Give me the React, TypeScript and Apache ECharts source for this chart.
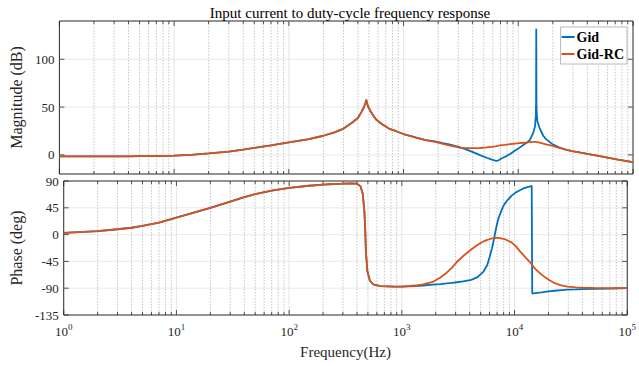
import React, { useEffect, useRef } from "react";
import * as echarts from "echarts";

const FONT = "'Liberation Serif', 'Times New Roman', serif";
const TXT = "#262626";

const freqs = [1, 1.5, 2, 3, 4, 5, 7, 10, 14, 20, 30, 40, 50, 70, 100, 150, 200, 250, 300, 350, 400, 430, 450, 465, 473, 480, 495, 520, 550, 576, 650, 745, 850, 1000, 1300, 1540, 1878, 2200, 2500, 2800, 3070, 3500, 4125, 4700, 5300, 5730, 6000, 6310, 6530, 6745, 6950, 7200, 7600, 7950, 8490, 9380, 10200, 11040, 12000, 12600, 13500, 14000, 14200, 14300, 14350, 14350, 14400, 14500, 14700, 15340, 16500, 17470, 19950, 22700, 25900, 29500, 35000, 40000, 49900, 74000, 100000];

const gidMag = [-1.6, -1.6, -1.6, -1.5, -1.5, -1.4, -1.2, -0.8, 0, 1.5, 3.5, 5.6, 7.3, 10, 13, 16.5, 20, 23.5, 27.5, 33, 38.5, 45, 49.5, 54, 57.7, 54, 49.5, 44.8, 40.5, 37, 32, 27.5, 25, 21.8,
  18, 15.8, 14, 12.3, 11, 9.5, 8, 5.8, 2.4, -0.5, -3, -4.5, -5.3, -6, -6.2, -5.6, -4.6, -3.5, -2.2, -1, 1, 4.5, 7.3, 10.3, 13.3, 15.5, 23, 30, 40, 55, 132, 132, 55, 42, 35, 28, 20, 16.5, 11, 7.8, 5.5, 4, 2.3, 1, -1, -5, -7.5];

const gidRcMag = [-1.6, -1.6, -1.6, -1.5, -1.5, -1.4, -1.2, -0.8, 0, 1.5, 3.5, 5.6, 7.3, 10, 13, 16.5, 20, 23.5, 27.5, 33, 38.5, 45, 49.5, 54, 57.7, 54, 49.5, 44.8, 40.5, 37, 32, 27.5, 25, 21.8,
  17.8, 15.5, 13.5, 11.5, 10, 8.7, 7.6, 7.1, 7, 7.2, 7.8, 8.3, 8.6, 9, 9.3, 9.6, 9.9, 10.2, 10.5, 10.8, 11.2, 11.8, 12.3, 12.7, 13.1, 13.4, 13.6, 13.6, 13.5, 13.5, 13.4, 13.4, 13.4, 13.3, 13.2, 12.7, 11.8, 11, 9.3, 7.3, 5.5, 4, 2.3, 1, -1, -5, -7.5];

const gidPhase = [3, 4.5, 6, 9, 11.5, 14.5, 20, 28.5, 36.5, 45, 55.5, 63, 68, 74, 78.5, 82, 84, 85, 85.5, 86, 85.5, 81, 68, 40, 10, -30, -62, -77, -82.5, -84.5, -86.5, -87, -87.5, -87.5,
  -86.5, -85.5, -84, -83, -82, -81, -80, -78.5, -76, -71.5, -62, -51, -38, -23, -10, 4, 16, 27, 39, 48, 56, 65, 70.5, 74, 77.5, 79, 80.5, 81.5, 82, 82, 82, -99, -99, -99, -98.8, -98.3, -97.5, -97, -95.5, -94.3, -93.4, -92.5, -92, -91.5, -91, -90.5, -90];

const gidRcPhase = [3, 4.5, 6, 9, 11.5, 14.5, 20, 28.5, 36.5, 45, 55.5, 63, 68, 74, 78.5, 82, 84, 85, 85.5, 86, 85.5, 81, 68, 40, 10, -30, -62, -77, -82.5, -84.5, -86.5, -87, -87.5, -87.5,
  -85.5, -83.5, -79.5, -72, -64, -55, -46, -36, -25, -17, -11.5, -9, -7.8, -6.5, -6, -5.7, -5.6, -5.6, -6.3, -7, -9, -13, -19, -27, -34.5, -39, -45, -48.5, -49.5, -50.3, -50.7, -50.7, -51, -52, -54, -58, -63.5, -67.6, -75.5, -81.6, -85.3, -87.3, -88.5, -89, -89.5, -89.8, -90];

const magTicks = [0, 50, 100];
const phaseTicks = [-135, -90, -45, 0, 45, 90];
const decades = [1, 10, 100, 1000, 10000, 100000];
const minorFreqs: number[] = [];
for (let d = 0; d < 5; d++) {
  for (let k = 2; k <= 9; k++) minorFreqs.push(k * Math.pow(10, d));
}
const xGridFreqs = [...decades, ...minorFreqs];

const BLUE = "#0072BD";
const ORANGE = "#D95319";

function vGridSeries(idx: number) {
  return {
    type: "custom",
    xAxisIndex: idx,
    yAxisIndex: idx,
    silent: true,
    z: 1,
    data: xGridFreqs.map((f) => [f, 0]),
    renderItem: (params: any, api: any) => {
      const f = api.value(0);
      const cs = params.coordSys;
      const x = api.coord([f, 0])[0];
      const lg = Math.log10(f);
      const major = Math.abs(lg - Math.round(lg)) < 1e-6;
      const top = cs.y;
      const bot = cs.y + cs.height;
      const tl = major ? 5 : 3;
      const children: any[] = [];
      if (f > 1 && f < 100000) {
        children.push({
          type: "line",
          shape: { x1: x, y1: top, x2: x, y2: bot },
          style: major
            ? { stroke: "#dedede", lineWidth: 0.8 }
            : { stroke: "#b8b8b8", lineWidth: 0.8, lineDash: [1.5, 1.5] },
        });
      }
      children.push({
        type: "line",
        shape: { x1: x, y1: bot, x2: x, y2: bot - tl },
        style: { stroke: TXT, lineWidth: 0.8 },
      });
      children.push({
        type: "line",
        shape: { x1: x, y1: top, x2: x, y2: top + tl },
        style: { stroke: TXT, lineWidth: 0.8 },
      });
      return { type: "group", children };
    },
  };
}

function hGridSeries(idx: number, ticks: number[], lo: number, hi: number) {
  return {
    type: "custom",
    xAxisIndex: idx,
    yAxisIndex: idx,
    silent: true,
    z: 1,
    data: ticks.map((v) => [1, v]),
    renderItem: (params: any, api: any) => {
      const v = api.value(1);
      const cs = params.coordSys;
      const y = api.coord([1, v])[1];
      const l = cs.x;
      const r = cs.x + cs.width;
      const children: any[] = [];
      if (v > lo && v < hi) {
        children.push({
          type: "line",
          shape: { x1: l, y1: y, x2: r, y2: y },
          style: { stroke: "#e3e3e3", lineWidth: 0.8 },
        });
      }
      children.push({
        type: "line",
        shape: { x1: l, y1: y, x2: l + 5, y2: y },
        style: { stroke: TXT, lineWidth: 0.8 },
      });
      children.push({
        type: "line",
        shape: { x1: r, y1: y, x2: r - 5, y2: y },
        style: { stroke: TXT, lineWidth: 0.8 },
      });
      return { type: "group", children };
    },
  };
}

function lineSeries(name: string, idx: number, vals: number[], color: string) {
  return {
    type: "line",
    name,
    xAxisIndex: idx,
    yAxisIndex: idx,
    showSymbol: false,
    symbol: "none",
    z: 3,
    lineStyle: { color, width: 1.8 },
    itemStyle: { color },
    data: freqs.map((f, i) => [f, vals[i]]),
  };
}

const gridBase = {
  left: 48,
  right: 6,
  show: true,
  borderColor: TXT,
  borderWidth: 1,
  backgroundColor: "transparent",
};

const option: any = {
  animation: false,
  backgroundColor: "#fff",
  title: {
    text: "Input current to duty-cycle frequency response",
    left: 345,
    textAlign: "center",
    top: 0,
    textStyle: { fontFamily: FONT, fontSize: 15, fontWeight: "normal", color: "#000" },
  },
  legend: {
    data: ["Gid", "Gid-RC"],
    orient: "vertical",
    right: 12,
    top: 27,
    icon: "rect",
    itemWidth: 13,
    itemHeight: 2,
    itemGap: 3,
    padding: [3, 3, 3, 1],
    backgroundColor: "#fff",
    borderColor: "#a8a8a8",
    borderWidth: 0.8,
    textStyle: { fontFamily: FONT, fontSize: 14, fontWeight: "bold", color: "#000", padding: [0, 0, 0, -3] },
  },
  grid: [
    { ...gridBase, top: 21, height: 153 },
    { ...gridBase, top: 181, height: 134 },
  ],
  xAxis: [
    {
      type: "log",
      logBase: 10,
      gridIndex: 0,
      min: 1,
      max: 100000,
      axisLabel: { show: false },
      axisTick: { show: false },
      axisLine: { show: false },
      splitLine: { show: false },
    },
    {
      type: "log",
      logBase: 10,
      gridIndex: 1,
      min: 1,
      max: 100000,
      axisTick: { show: false },
      axisLine: { show: false },
      splitLine: { show: false },
      axisLabel: {
        margin: 7,
        formatter: (v: number) => `{b|10}{s|${Math.round(Math.log10(v))}}`,
        rich: {
          b: { fontFamily: FONT, fontSize: 13, color: TXT, verticalAlign: "bottom", lineHeight: 16 },
          s: { fontFamily: FONT, fontSize: 9, color: TXT, verticalAlign: "bottom", lineHeight: 16, padding: [0, 0, 7, 0] },
        },
      },
      name: "Frequency(Hz)",
      nameLocation: "middle",
      nameGap: 29,
      nameTextStyle: { fontFamily: FONT, fontSize: 15, color: TXT },
    },
  ],
  yAxis: [
    {
      type: "value",
      gridIndex: 0,
      min: -20,
      max: 140,
      interval: 10,
      axisTick: { show: false },
      axisLine: { show: false },
      splitLine: { show: false },
      axisLabel: {
        margin: 5,
        fontFamily: FONT,
        fontSize: 13,
        color: TXT,
        formatter: (v: number) => (magTicks.indexOf(v) >= 0 ? String(v) : ""),
      },
      name: "Magnitude (dB)",
      nameLocation: "middle",
      nameGap: 24,
      nameTextStyle: { fontFamily: FONT, fontSize: 16, color: TXT },
    },
    {
      type: "value",
      gridIndex: 1,
      min: -135,
      max: 90,
      interval: 45,
      axisTick: { show: false },
      axisLine: { show: false },
      splitLine: { show: false },
      axisLabel: { margin: 5, fontFamily: FONT, fontSize: 13, color: TXT },
      name: "Phase (deg)",
      nameLocation: "middle",
      nameGap: 24,
      nameTextStyle: { fontFamily: FONT, fontSize: 16, color: TXT },
    },
  ],
  series: [
    vGridSeries(0),
    hGridSeries(0, magTicks, -20, 140),
    vGridSeries(1),
    hGridSeries(1, phaseTicks, -135, 90),
    lineSeries("Gid", 0, gidMag, BLUE),
    lineSeries("Gid-RC", 0, gidRcMag, ORANGE),
    lineSeries("Gid", 1, gidPhase, BLUE),
    lineSeries("Gid-RC", 1, gidRcPhase, ORANGE),
  ],
};

export default function App() {
  const ref = useRef<HTMLDivElement>(null);
  useEffect(() => {
    document.body.style.margin = "0";
    const chart = echarts.init(ref.current!, null, { renderer: "svg" });
    chart.setOption(option);
    return () => chart.dispose();
  }, []);
  return <div ref={ref} style={{ width: 639, height: 366 }} />;
}
